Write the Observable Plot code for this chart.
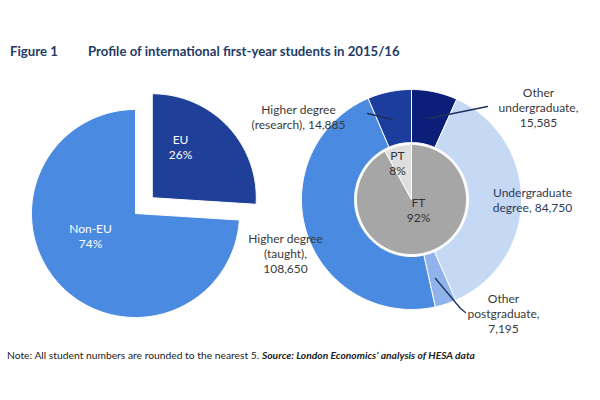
<!DOCTYPE html>
<html><head><meta charset="utf-8">
<script src="https://cdn.jsdelivr.net/npm/d3@7"></script>
<script src="https://cdn.jsdelivr.net/npm/@observablehq/plot@0.6"></script>
<style>
body{margin:0;background:#fff;font-family:Lato,"Open Sans",sans-serif;width:600px;height:400px;overflow:hidden}
#title{height:75px;box-sizing:border-box;padding:42px 0 0 10px;font-weight:bold;font-size:13.2px;color:#243b66;line-height:18px;white-space:nowrap}
#title .fig{display:inline-block;width:78px}
#note{padding:5px 0 0 7px;font-size:10.3px;line-height:14px;color:#222;white-space:nowrap}
</style></head><body>
<div id="title"><span class="fig">Figure 1</span>Profile of international first-year students in 2015/16</div>
<div id="chart"></div>
<div id="note">Note: All student numbers are rounded to the nearest 5. <b><i>Source: London Economics’ analysis of HESA data</i></b></div>
<script>
// ---- data ----
const leftCategories = ["EU", "Non-EU"];
const leftShares = [26, 74];
const innerCategories = ["FT", "PT"];
const innerShares = [92, 8];
const outerCategories = ["Other undergraduate", "Undergraduate degree", "Other postgraduate", "Higher degree (taught)", "Higher degree (research)"];
const outerLabelNames = ["Other\nundergraduate,", "Undergraduate\ndegree,", "Other\npostgraduate,", "Higher degree\n(taught),", "Higher degree\n(research),"];
const outerValues = [15585, 84750, 7195, 108650, 14885];

// ---- styles ----
const leftColors = ["#1f3f98", "#4a8ae0"];
const innerColors = ["#a6a6a6", "#dedede"];
const outerColors = ["#0b1f78", "#c6d9f4", "#8fb3ea", "#4a8ae0", "#1c3d9c"];
const outerLabelBreak = ["\n", " ", "\n", "\n", " "];
const outerLabelColors = ["#3a3a3a", "#2b3a58", "#3a3a3a", "#3a3a3a", "#3a3a3a"];

// ---- layout ----
const H = 268;
const leftPie = {cx: 135, cy: 138, r: 104, explode: 23};
const donut = {cx: 411, cy: 124, rIn: 57, rOut: 110};
const inner = {cx: 411, cy: 124, r: 55};
const leftLabelPos = [[180, 71], [90, 160]];
const innerLabelPos = [[418, 134], [397, 87]];
const outerLabelPos = [[538, 32], [532, 124], [503, 238], [285, 178], [298, 41]];
const leaderPaths = [
  [[428, 43], [487, 31]],
  [[435, 203], [460, 233], [465, 237]],
  [[392, 44], [367, 38]]
];

const rad = d => d * Math.PI / 180;
function arcPoly(key, color, cx, cy, rIn, rOut, a0, a1) {
  const pts = [];
  const n = Math.max(2, Math.ceil((a1 - a0)));
  for (let i = 0; i <= n; i++) {
    const a = rad(a0 + (a1 - a0) * i / n);
    pts.push({key, color, x: cx + rOut * Math.sin(a), y: cy - rOut * Math.cos(a)});
  }
  if (rIn > 0) {
    for (let i = n; i >= 0; i--) {
      const a = rad(a0 + (a1 - a0) * i / n);
      pts.push({key, color, x: cx + rIn * Math.sin(a), y: cy - rIn * Math.cos(a)});
    }
  } else {
    pts.push({key, color, x: cx, y: cy});
  }
  pts.push({...pts[0]});
  return pts;
}
function angles(values) {
  const total = d3.sum(values);
  let acc = 0;
  return values.map(v => { const a0 = acc / total * 360; acc += v; return [a0, acc / total * 360]; });
}

const polys = [];
// left pie
angles(leftShares).forEach(([a0, a1], i) => {
  let cx = leftPie.cx, cy = leftPie.cy;
  if (leftCategories[i] === "EU") {
    const m = rad((a0 + a1) / 2);
    cx += leftPie.explode * Math.sin(m); cy -= leftPie.explode * Math.cos(m);
  }
  polys.push(...arcPoly("L" + i, leftColors[i], cx, cy, 0, leftPie.r, a0, a1));
});
// donut
angles(outerValues).forEach(([a0, a1], i) => {
  polys.push(...arcPoly("O" + i, outerColors[i], donut.cx, donut.cy, donut.rIn, donut.rOut, a0, a1));
});
// inner pie
angles(innerShares).forEach(([a0, a1], i) => {
  polys.push(...arcPoly("I" + i, innerColors[i], inner.cx, inner.cy, 0, inner.r, a0, a1));
});

const fmt = d3.format(",");
const labels = [
  ...leftCategories.map((c, i) => ({x: leftLabelPos[i][0], y: leftLabelPos[i][1], text: `${c}\n${leftShares[i]}%`, fill: "#ffffff"})),
  ...innerCategories.map((c, i) => ({x: innerLabelPos[i][0], y: innerLabelPos[i][1], text: `${c}\n${innerShares[i]}%`, fill: "#333333"})),
  ...outerCategories.map((c, i) => ({x: outerLabelPos[i][0], y: outerLabelPos[i][1], text: outerLabelNames[i] + outerLabelBreak[i] + fmt(outerValues[i]), fill: outerLabelColors[i]}))
];
const leaders = leaderPaths.flatMap((p, k) => p.map(([x, y]) => ({k, x, y})));

const chart = Plot.plot({
  width: 600, height: H, margin: 0,
  style: {fontFamily: "Lato, 'Open Sans', sans-serif", background: "white"},
  x: {domain: [0, 600], range: [0, 600], axis: null},
  y: {domain: [0, H], range: [0, H], axis: null},
  color: {type: "identity"},
  marks: [
    Plot.line(polys, {x: "x", y: "y", z: "key", fill: "color", stroke: "white", strokeWidth: 1, curve: "linear"}),
    Plot.line(leaders, {x: "x", y: "y", z: "k", stroke: "#1f2f5f", strokeWidth: 1.3, curve: "linear"}),
    Plot.text(labels, {x: "x", y: "y", text: "text", fill: "fill", fontSize: 12, lineHeight: 1.25, textAnchor: "middle"})
  ]
});
document.getElementById("chart").appendChild(chart);
</script>
</body></html>
